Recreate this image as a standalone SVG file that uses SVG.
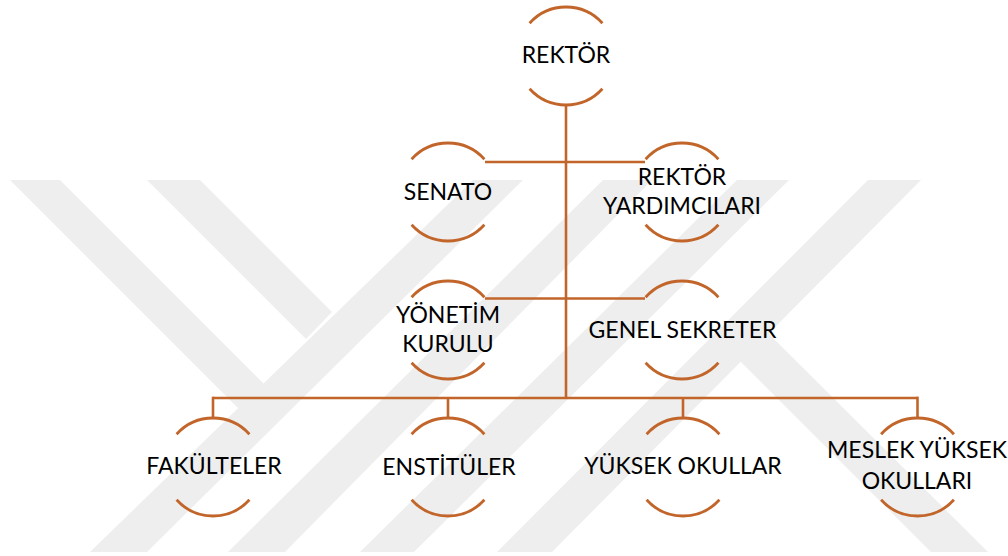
<svg xmlns="http://www.w3.org/2000/svg" width="1008" height="556" viewBox="0 0 1008 556">
<style>
.wm{fill:#eeeeee}
.arc{fill:none;stroke:#C2652A;stroke-width:2.8;stroke-linecap:butt}
.ln{fill:none;stroke:#C2652A;stroke-width:2.6}
text{font-family:Lato,"Open Sans","Liberation Sans",sans-serif;font-size:23px;fill:#000;text-anchor:middle}
</style>
<rect width="1008" height="556" fill="#ffffff"/>
<g id="watermark">
<polygon class="wm" points="10,180 60,180 266,386 241,411"/>
<polygon class="wm" points="147,180 200,180 332,312 306,339"/>
<polygon class="wm" points="473,180 523,180 147,552 90,552"/>
<polygon class="wm" points="603,180 652,180 285,552 228,552"/>
<polygon class="wm" points="737,180 789,180 414,552 360,552"/>
<polygon class="wm" points="868,180 921,180 552,552 497,552"/>
<polygon class="wm" points="740,361 768,333 988,552 931,552"/>
</g>
<g id="connectors">
<line class="ln" x1="566" y1="105" x2="566" y2="398"/>
<line class="ln" x1="485" y1="162" x2="645" y2="162"/>
<line class="ln" x1="485" y1="298.5" x2="645" y2="298.5"/>
<line class="ln" x1="213" y1="398" x2="918" y2="398"/>
<line class="ln" x1="213" y1="396.7" x2="213" y2="418"/>
<line class="ln" x1="448" y1="398" x2="448" y2="418"/>
<line class="ln" x1="683" y1="398" x2="683" y2="418"/>
<line class="ln" x1="917.5" y1="396.7" x2="917.5" y2="418"/>
</g>
<g id="n-rektor">
<path class="arc" d="M529.6,23.2 A49,49 0 0 1 602.4,23.2 M529.6,88.8 A49,49 0 0 0 602.4,88.8"/>
<text x="566" y="63">REKTÖR</text>
</g>
<g id="n-senato">
<path class="arc" d="M411.6,159.2 A49,49 0 0 1 484.4,159.2 M411.6,224.8 A49,49 0 0 0 484.4,224.8"/>
<text x="448" y="200">SENATO</text>
</g>
<g id="n-rektor-yardimcilari">
<path class="arc" d="M645.6,159.2 A49,49 0 0 1 718.4,159.2 M645.6,224.8 A49,49 0 0 0 718.4,224.8"/>
<text x="682" y="185">REKTÖR</text>
<text x="682" y="214">YARDIMCILARI</text>
</g>
<g id="n-yonetim-kurulu">
<path class="arc" d="M411.6,297.2 A49,49 0 0 1 484.4,297.2 M411.6,362.8 A49,49 0 0 0 484.4,362.8"/>
<text x="448" y="323">YÖNETİM</text>
<text x="448" y="351.5">KURULU</text>
</g>
<g id="n-genel-sekreter">
<path class="arc" d="M645.6,297.2 A49,49 0 0 1 718.4,297.2 M645.6,362.8 A49,49 0 0 0 718.4,362.8"/>
<text x="682.5" y="338">GENEL SEKRETER</text>
</g>
<g id="n-fakulteler">
<path class="arc" d="M176.6,434.2 A49,49 0 0 1 249.4,434.2 M176.6,499.8 A49,49 0 0 0 249.4,499.8"/>
<text x="214" y="474">FAKÜLTELER</text>
</g>
<g id="n-enstituler">
<path class="arc" d="M411.6,434.2 A49,49 0 0 1 484.4,434.2 M411.6,499.8 A49,49 0 0 0 484.4,499.8"/>
<text x="449" y="474.5">ENSTİTÜLER</text>
</g>
<g id="n-yuksek-okullar">
<path class="arc" d="M646.6,434.2 A49,49 0 0 1 719.4,434.2 M646.6,499.8 A49,49 0 0 0 719.4,499.8"/>
<text x="683" y="474">YÜKSEK OKULLAR</text>
</g>
<g id="n-meslek-yuksek-okullari">
<path class="arc" d="M881.1,434.2 A49,49 0 0 1 953.9,434.2 M881.1,499.8 A49,49 0 0 0 953.9,499.8"/>
<text x="917" y="458">MESLEK YÜKSEK</text>
<text x="917" y="489">OKULLARI</text>
</g>
</svg>
